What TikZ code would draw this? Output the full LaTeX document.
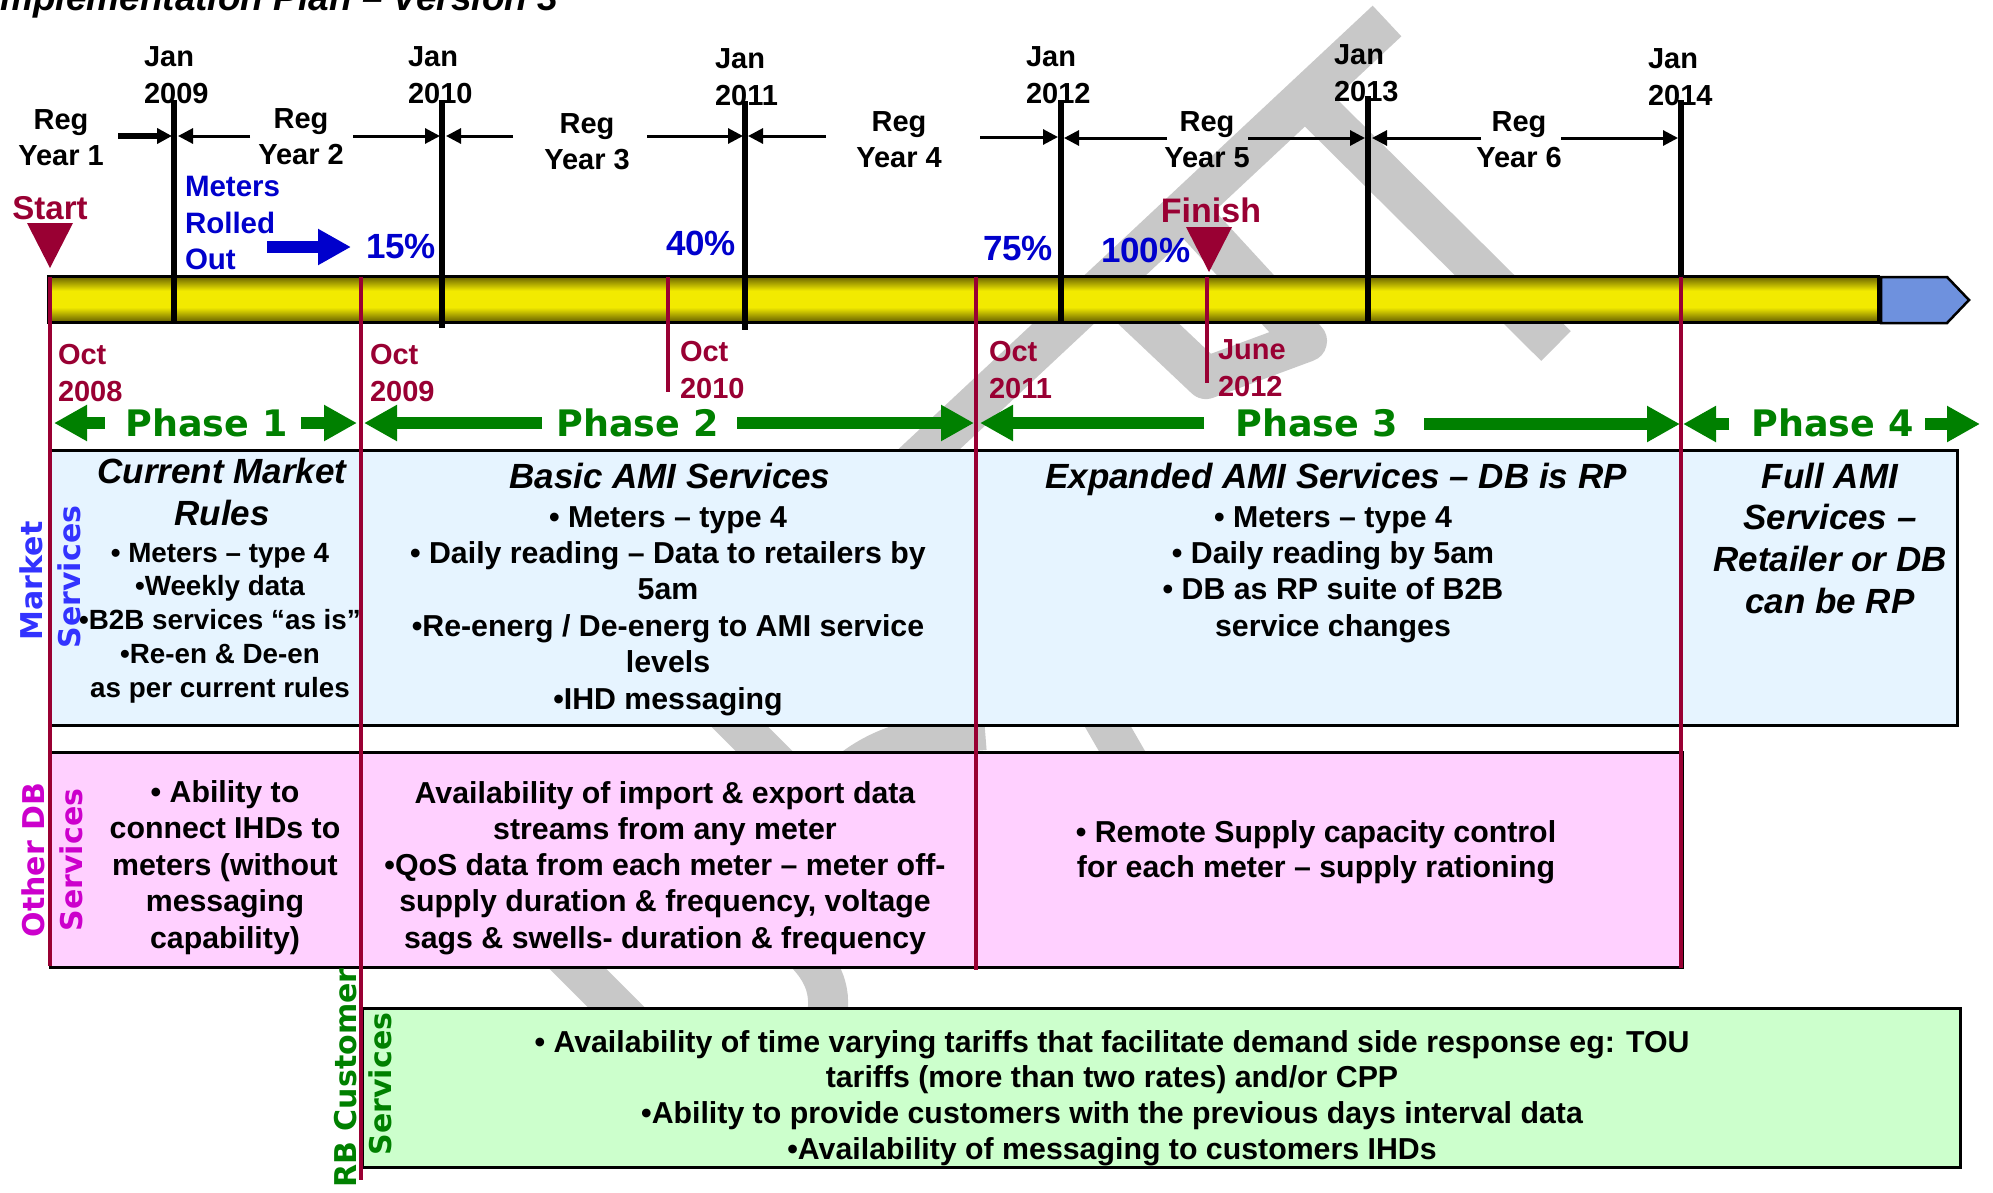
\documentclass[tikz,border=0pt]{standalone}
\usepackage{fontspec}
\setmainfont{Liberation Sans}
\newfontfamily\vfont{DejaVu Sans}
\usetikzlibrary{arrows.meta}

\definecolor{crim}{RGB}{153,0,51}
\definecolor{pctblue}{RGB}{0,0,204}
\definecolor{phgreen}{RGB}{0,128,0}
\definecolor{wm}{RGB}{200,200,200}
\definecolor{mktblue}{RGB}{51,51,255}
\definecolor{dbmag}{RGB}{204,0,204}
\definecolor{boxblue}{RGB}{230,244,255}
\definecolor{boxpink}{RGB}{255,208,255}
\definecolor{boxgreen}{RGB}{204,255,204}
\definecolor{arrowblue}{RGB}{110,145,222}
\definecolor{barolive}{RGB}{100,94,0}
\definecolor{baryellow}{RGB}{242,234,0}

% tube look of the time bar: dark rims, bright yellow core
% (TikZ maps the path onto the 25bp..75bp band of the shading)
\pgfdeclareverticalshading{barshade}{100bp}{color(0bp)=(barolive); color(25bp)=(barolive); color(41bp)=(baryellow); color(59bp)=(baryellow); color(75bp)=(barolive); color(100bp)=(barolive)}

\newcommand\fsz[1]{\fontsize{#1pt}{#1pt}\selectfont}
% one centred line per item, baselines dy apart
\newcommand\linestack[6]{\foreach \t [count=\i] in {#6} {\node[#5,anchor=base] (#1-\i) at (#2,{#3+(\i-1)*(#4)}) {\t};}}

\begin{document}
\begin{tikzpicture}[x=1pt,y=-1pt,
  every node/.style={inner sep=0pt,outer sep=0pt},
  yrlab/.style={font=\bfseries\fsz{29}},
  datelab/.style={font=\bfseries\fsz{29},text=crim},
  pctlab/.style={font=\bfseries\fsz{35},text=pctblue},
  phaselab/.style={font=\vfont\bfseries\fsz{36.5},text=phgreen},
  sidelab/.style={font=\vfont\bfseries\fsz{30},rotate=90,anchor=base},
  boxtitle/.style={font=\bfseries\itshape\fsz{35}},
  bodytxt/.style={font=\bfseries\fsz{30.3}},
  smalltxt/.style={font=\bfseries\fsz{27.8}},
  regarrow/.style={draw=black,-{Triangle[length=15pt,width=15pt]}},
  phasearrow/.style={draw=phgreen,line width=12pt,-{Triangle[length=33pt,width=34pt]}},
  crimline/.style={draw=crim,line width=4pt},
  tickline/.style={draw=black,line width=5.5pt},
  panel/.style={draw=black,line width=3pt}]

\useasboundingbox (0,0) rectangle (1993,1192);
\fill[white] (0,0) rectangle (1993,1192);

% ---- grey watermark strokes (behind everything) ----
\begin{scope}[draw=wm,line width=42pt,line cap=butt,line join=round]
  \draw (1387,21) -- (832,540);
  \draw (1308,100) -- (1556,346);
  \draw (1191,216) -- (1306,341) -- (1206,378) -- (1115,292);
\end{scope}
\begin{scope}[draw=wm,line width=40pt,line cap=butt]
  \draw (695,682) -- (809,796);
  \draw (845,775) .. controls (880,745) and (920,735) .. (985,730);
  \draw (1085,687) -- (1145,791);
  \draw (545,936) -- (651,1042);
  \draw (800,948) .. controls (830,975) and (836,1005) .. (818,1040);
\end{scope}

% ---- heading (runs off the top edge) ----
\node[font=\bfseries\itshape\fsz{37},anchor=base west] (title) at (-10,10) {Implementation Plan – Version 3};

% ---- time bar ----
\shade[shading=barshade] (48,276) rectangle (1878,322);
\draw[line width=3pt] (48,276) rectangle (1878,322);
\filldraw[fill=arrowblue,draw=black,line width=2.5pt] (1881,277) -- (1947,277) -- (1969,300) -- (1947,323) -- (1881,323) -- cycle;

% ---- service panels ----
\filldraw[panel,fill=boxblue] (50,450) rectangle (1957,725);
\filldraw[panel,fill=boxpink] (50,752) rectangle (1682,967);
\filldraw[panel,fill=boxgreen] (362,1008) rectangle (1960,1167);

% ---- milestone lines ----
\draw[crimline] (50,277) -- (50,966);
\draw[crimline] (361,277) -- (361,1180);
\draw[crimline] (668,277) -- (668,392);
\draw[crimline] (976,277) -- (976,970);
\draw[crimline] (1207,277) -- (1207,383);
\draw[crimline,line width=4.5pt] (1681,277) -- (1681,968);

\draw[tickline] (174,100) -- (174,323);
\draw[tickline] (442,100) -- (442,328);
\draw[tickline] (745,101) -- (745,330);
\draw[tickline] (1061,100) -- (1061,324);
\draw[tickline] (1368,96) -- (1368,321);
\draw[tickline] (1681,100) -- (1681,277);

% ---- start / finish markers ----
\fill[crim] (27,223) -- (73,223) -- (50,268) -- cycle;
\fill[crim] (1186,227) -- (1232,227) -- (1209,272) -- cycle;
\node[font=\bfseries\fsz{33},text=crim,anchor=base] (start) at (50,219) {Start};
\node[font=\bfseries\fsz{34},text=crim,anchor=base] (finish) at (1211,222) {Finish};

% ---- calendar labels ----
\foreach \n/\x/\ya/\yr in {j09/144/66/2009,j10/408/66/2010,j11/715/68/2011,j12/1026/66/2012,j13/1334/64/2013,j14/1648/68/2014}{
  \node[yrlab,anchor=base west] (\n-a) at (\x,\ya) {Jan};
  \node[yrlab,anchor=base west] (\n-b) at (\x,\ya+37) {\yr};
}
\foreach \n/\x/\ya/\k in {r1/61/129/1,r2/301/128/2,r3/587/133/3,r4/899/131/4,r5/1207/131/5,r6/1519/131/6}{
  \node[yrlab,anchor=base] (\n-a) at (\x,\ya) {Reg};
  \node[yrlab,anchor=base] (\n-b) at (\x,\ya+36) {Year \k};
}

% regulatory-year span arrows
\foreach \n/\a/\b/\yy/\w in {ya/118/172/136/6.5,yb/250/178/136/3,yc/353/440/136/3,yd/513/446/136/3,ye/647/743/136/3,yf/826/748/136/3,yg/980/1058/137/3,yh/1167/1064/138/3,yi/1248/1365/138/3,yj/1481/1372/138/3,yk/1561/1678/138/3}{
  \coordinate (\n-s) at (\a,\yy);
  \coordinate (\n-e) at (\b,\yy);
  \draw[regarrow,line width=\w pt] (\n-s) -- (\n-e);
}

% ---- dates below the bar ----
\foreach \n/\x/\ya/\m/\yr in {o08/58/364/Oct/2008,o09/370/364/Oct/2009,o10/680/361/Oct/2010,o11/989/361/Oct/2011,jun12/1218/359/June/2012}{
  \node[datelab,anchor=base west] (\n-a) at (\x,\ya) {\m};
  \node[datelab,anchor=base west] (\n-b) at (\x,\ya+37) {\yr};
}

% ---- roll-out progress ----
\node[font=\bfseries\fsz{29.5},text=pctblue,anchor=base west] (mro-1) at (185,196) {Meters};
\node[font=\bfseries\fsz{29.5},text=pctblue,anchor=base west] (mro-2) at (185,233) {Rolled};
\node[font=\bfseries\fsz{29.5},text=pctblue,anchor=base west] (mro-3) at (185,269) {Out};
\coordinate (mroS) at (267,247);
\coordinate (mroE) at (351,247);
\draw[draw=pctblue,line width=12pt,-{Triangle[length=33pt,width=34pt]}] (mroS) -- (mroE);
\node[pctlab,anchor=base west] (p15) at (366,258) {15\%};
\node[pctlab,anchor=base west] (p40) at (666,255) {40\%};
\node[pctlab,anchor=base west] (p75) at (983,260) {75\%};
\node[pctlab,anchor=base west] (p100) at (1101,262) {100\%};

% ---- phase arrows ----
\foreach \n/\a/\b/\yy in {q1a/105/54/423,q1b/301/357/423,q2a/542/364/423,q2b/737/974/423,q3a/1204/980/423,q3b/1424/1680/424,q4a/1729/1683/424,q4b/1925/1980/424}{
  \coordinate (\n-s) at (\a,\yy);
  \coordinate (\n-e) at (\b,\yy);
  \draw[phasearrow] (\n-s) -- (\n-e);
}
\node[phaselab,anchor=base] (ph1) at (206.5,436) {Phase 1};
\node[phaselab,anchor=base] (ph2) at (637.5,436) {Phase 2};
\node[phaselab,anchor=base] (ph3) at (1316.5,436) {Phase 3};
\node[phaselab,anchor=base] (ph4) at (1832.5,436) {Phase 4};

% ---- row labels ----
\node[sidelab,text=mktblue] (mkt-a) at (42,581) {Market};
\node[sidelab,text=mktblue] (mkt-b) at (80,577) {Services};
\node[sidelab,text=dbmag] (odb-a) at (44,860) {Other DB};
\node[sidelab,text=dbmag] (odb-b) at (82,860) {Services};
\node[sidelab,text=phgreen] (rbc-a) at (356,1078) {RB Customer};
\node[sidelab,text=phgreen] (rbc-b) at (391,1084) {Services};

% ---- market services ----
\linestack{mk1t}{222}{483}{42}{boxtitle}{{Current Market},{Rules}}
\linestack{mk1}{220}{562}{33.75}{smalltxt}{{• Meters – type 4},{•Weekly data},{•B2B services “as is”},{•Re-en \& De-en},{as per current rules}}
\node[boxtitle,anchor=base] (mk2t) at (670,488) {Basic AMI Services};
\linestack{mk2}{668}{527}{36.4}{bodytxt}{{• Meters – type 4},{• Daily reading – Data to retailers by},{5am},{•Re-energ / De-energ to AMI service},{levels},{•IHD messaging}}
\node[boxtitle,anchor=base] (mk3t) at (1336,488) {Expanded AMI Services – DB is RP};
\linestack{mk3}{1333}{527}{36.4}{bodytxt}{{• Meters – type 4},{• Daily reading by 5am},{• DB as RP suite of B2B},{service changes}}
\linestack{mk4}{1830}{488}{41.7}{boxtitle}{{Full AMI},{Services –},{Retailer or DB},{can be RP}}

% ---- other DB services ----
\linestack{db1}{225}{802}{36.5}{bodytxt}{{• Ability to},{connect IHDs to},{meters (without},{messaging},{capability)}}
\linestack{db2}{665}{803}{36.3}{bodytxt}{{Availability of import \& export data},{streams from any meter},{•QoS data from each meter – meter off-},{supply duration \& frequency, voltage},{sags \& swells- duration \& frequency}}
\linestack{db3}{1316}{842}{35}{bodytxt}{{• Remote Supply capacity control},{for each meter – supply rationing}}

% ---- RB customer services ----
\linestack{rb}{1112}{1052}{35.7}{bodytxt}{{• Availability of time varying tariffs that facilitate demand side response eg: TOU},{tariffs (more than two rates) and/or CPP},{•Ability to provide customers with the previous days interval data},{•Availability of messaging to customers IHDs}}

\end{tikzpicture}
\end{document}
